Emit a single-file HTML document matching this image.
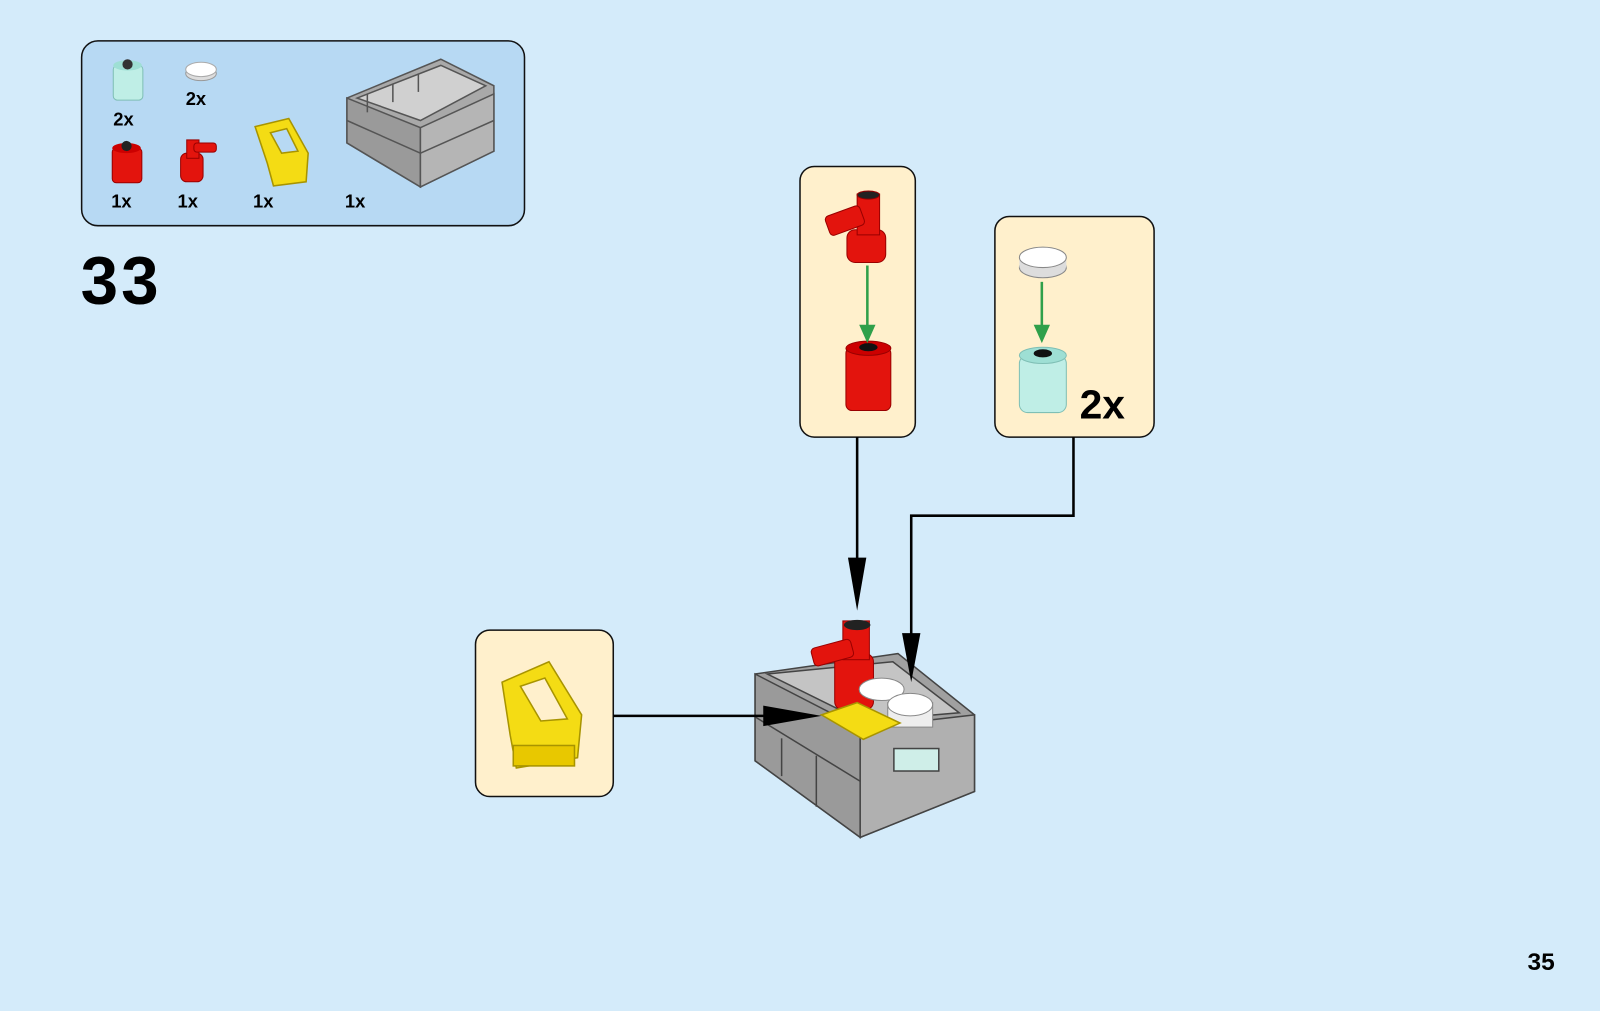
<!DOCTYPE html>
<html><head><meta charset="utf-8"><style>
html,body{margin:0;padding:0;width:1600px;height:1011px;overflow:hidden;background:#d4ebfa}
svg{display:block}
text{font-family:"Liberation Sans",Arial,sans-serif;font-weight:bold;fill:#000}
</style></head><body>
<svg width="1600" height="1011" viewBox="0 0 1568 990" preserveAspectRatio="none" xmlns="http://www.w3.org/2000/svg">
<rect width="1568" height="990" fill="#d4ebfa"/>
<rect x="80" y="40" width="434" height="181" rx="16" fill="#b7d9f3" stroke="#111" stroke-width="1.5"/>
<g>
<rect x="111" y="64" width="29" height="34" rx="4" fill="#bfeee6" stroke="#7fbfb5"/>
<ellipse cx="125" cy="64" rx="14" ry="5" fill="#9edfd4"/>
<circle cx="125" cy="63" r="5" fill="#333"/>
</g>
<text x="111" y="123" font-size="18">2x</text>
<g>
<ellipse cx="197" cy="72" rx="15" ry="7" fill="#ddd" stroke="#999"/>
<ellipse cx="197" cy="68" rx="15" ry="7" fill="#fff" stroke="#aaa"/>
</g>
<text x="182" y="103" font-size="18">2x</text>
<g>
<rect x="110" y="145" width="29" height="34" rx="4" fill="#e3140d" stroke="#900"/>
<ellipse cx="124" cy="145" rx="14" ry="5" fill="#c00"/>
<circle cx="124" cy="143" r="5" fill="#222"/>
</g>
<text x="109" y="203" font-size="18">1x</text>
<g fill="#e3140d" stroke="#900">
<rect x="177" y="150" width="22" height="28" rx="6"/>
<rect x="183" y="137" width="12" height="18"/>
<rect x="190" y="140" width="22" height="9" rx="3"/>
</g>
<text x="174" y="203" font-size="18">1x</text>
<g fill="#f4dc14" stroke="#a89400" stroke-width="1.5">
<path d="M250 124 L283 116 L302 150 L300 178 L268 182 L262 160 Z"/>
<path d="M265 130 L281 126 L292 148 L276 150 Z" fill="#b7d9f3"/>
</g>
<text x="248" y="203" font-size="18">1x</text>
<g stroke="#555" stroke-width="1.5">
<polygon points="340,96 432,58 484,84 484,148 412,183 340,140" fill="#a9a9a9"/>
<polygon points="340,96 412,125 412,183 340,140" fill="#9a9a9a"/>
<polygon points="412,125 484,92 484,148 412,183" fill="#b5b5b5"/>
<polygon points="350,96 432,64 476,84 412,118" fill="#d0d0d0"/>
<line x1="360" y1="92" x2="360" y2="110"/><line x1="385" y1="82" x2="385" y2="100"/><line x1="410" y1="72" x2="410" y2="90"/>
<line x1="412" y1="150" x2="484" y2="118"/><line x1="340" y1="118" x2="412" y2="150"/>
</g>
<text x="338" y="203" font-size="18">1x</text>
<text x="79" y="297" font-size="66" letter-spacing="3">33</text>
<rect x="784" y="163" width="113" height="265" rx="14" fill="#fff0cc" stroke="#111" stroke-width="1.5"/>
<rect x="975" y="212" width="156" height="216" rx="14" fill="#fff0cc" stroke="#111" stroke-width="1.5"/>
<rect x="466" y="617" width="135" height="163" rx="14" fill="#fff0cc" stroke="#111" stroke-width="1.5"/>
<g fill="#e3140d" stroke="#900">
<rect x="830" y="225" width="38" height="32" rx="8"/>
<rect x="840" y="190" width="22" height="40"/>
<rect x="810" y="206" width="36" height="20" rx="4" transform="rotate(-20 828 216)"/>
<ellipse cx="851" cy="191" rx="11" ry="4" fill="#222"/>
<rect x="829" y="340" width="44" height="62" rx="6"/>
<ellipse cx="851" cy="341" rx="22" ry="7" fill="#c00"/>
</g>
<ellipse cx="851" cy="340" rx="9" ry="4" fill="#111"/>
<line x1="850" y1="260" x2="850" y2="320" stroke="#2fa04a" stroke-width="2.5"/>
<polygon points="842,318 858,318 850,336" fill="#2fa04a"/>
<ellipse cx="1022" cy="262" rx="23" ry="10" fill="#ddd" stroke="#888"/>
<rect x="999" y="252" width="46" height="10" fill="#ddd"/>
<ellipse cx="1022" cy="252" rx="23" ry="10" fill="#fff" stroke="#888"/>
<line x1="1021" y1="276" x2="1021" y2="322" stroke="#2fa04a" stroke-width="2.5"/>
<polygon points="1013,318 1029,318 1021,336" fill="#2fa04a"/>
<rect x="999" y="348" width="46" height="56" rx="8" fill="#bfeee6" stroke="#7fbfb5"/>
<ellipse cx="1022" cy="348" rx="23" ry="8" fill="#9edfd4" stroke="#7fbfb5"/>
<ellipse cx="1022" cy="346" rx="9" ry="4" fill="#111"/>
<text x="1058" y="410" font-size="40">2x</text>
<g fill="#f4dc14" stroke="#a89400" stroke-width="1.5">
<path d="M492 668 L538 648 L570 700 L566 742 L506 752 L500 720 Z"/>
<path d="M510 672 L534 664 L556 704 L530 706 Z" fill="#fff0cc"/>
<rect x="503" y="730" width="60" height="20" fill="#e8c800"/>
</g>
<g stroke="#444" stroke-width="1.5">
<polygon points="740,660 880,640 955,700 955,775 843,820 740,745" fill="#a0a0a0"/>
<polygon points="740,660 843,713 843,820 740,745" fill="#9a9a9a"/>
<polygon points="843,713 955,700 955,775 843,820" fill="#b0b0b0"/>
<polygon points="752,660 875,648 940,698 845,706" fill="#c4c4c4"/>
<line x1="766" y1="723" x2="766" y2="760"/><line x1="800" y1="740" x2="800" y2="790"/>
<line x1="740" y1="702" x2="843" y2="765"/>
<rect x="876" y="733" width="44" height="22" fill="#cfeee8"/>
</g>
<g fill="#e3140d" stroke="#900">
<rect x="818" y="640" width="38" height="55" rx="8"/>
<rect x="826" y="608" width="26" height="38"/>
<rect x="796" y="630" width="40" height="18" rx="4" transform="rotate(-15 816 640)"/>
</g>
<ellipse cx="840" cy="612" rx="13" ry="5" fill="#222"/>
<ellipse cx="864" cy="675" rx="22" ry="11" fill="#fff" stroke="#888"/>
<rect x="870" y="688" width="44" height="24" fill="#eee" stroke="#888"/>
<ellipse cx="892" cy="690" rx="22" ry="11" fill="#fff" stroke="#888"/>
<g fill="#f4dc14" stroke="#a89400" stroke-width="1.5">
<polygon points="805,700 840,688 882,708 846,724"/>
</g>
<g stroke="#000" stroke-width="2.5" fill="none">
<line x1="840" y1="428" x2="840" y2="580"/>
<polyline points="1052,428 1052,505 893,505 893,650"/>
<line x1="601" y1="701" x2="790" y2="701"/>
</g>
<polygon points="831,546 849,546 840,598" fill="#000"/>
<polygon points="884,620 902,620 893,668" fill="#000"/>
<polygon points="748,691 748,711 805,701" fill="#000"/>
<text x="1497" y="950" font-size="24">35</text>
</svg>
</body></html>
